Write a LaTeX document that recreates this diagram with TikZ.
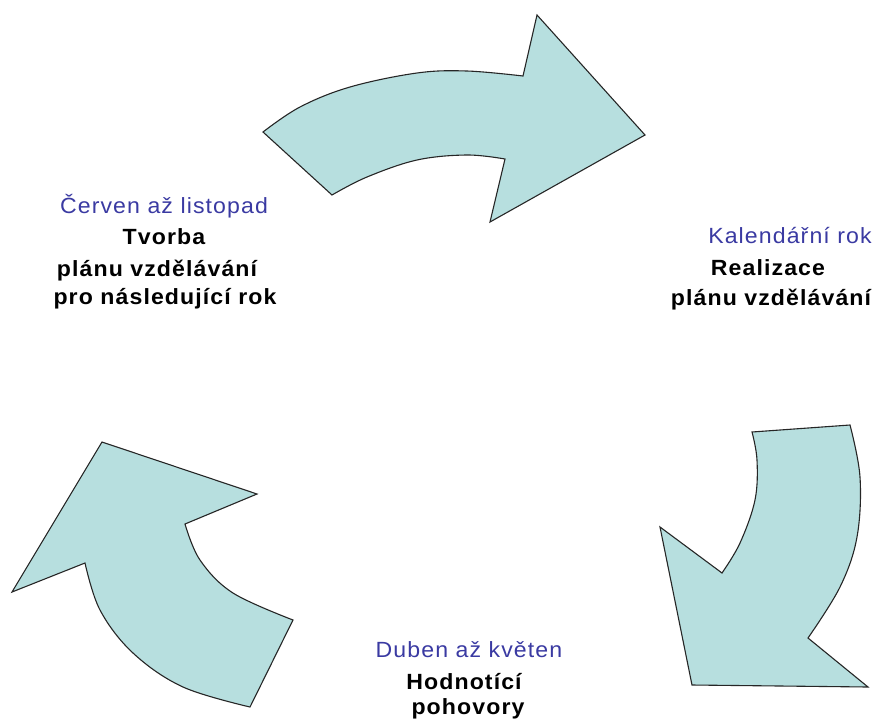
\documentclass[tikz,border=0pt]{standalone}
\usepackage{fontspec}
\setmainfont{Liberation Sans}
\newfontfamily\lblfont[FakeStretch=1.05,LetterSpace=5]{Liberation Sans}
\definecolor{arrowfill}{HTML}{B7DFDF}
\definecolor{monthblue}{HTML}{3A3AA2}
\tikzset{
  bigarrow/.style={fill=arrowfill,draw=black!85,line width=1.1pt,line join=miter},
  lbl/.style={font=\lblfont\fontsize{22}{26}\selectfont,inner sep=0pt,anchor=base},
  month/.style={lbl,text=monthblue},
  task/.style={lbl,font=\lblfont\fontsize{22}{26}\selectfont\bfseries},
}
\begin{document}
\begin{tikzpicture}[x=1pt,y=-1pt]
\useasboundingbox (0,0) rectangle (876,724);
% top arrow
\path[bigarrow] plot[smooth,tension=0.6] coordinates {(263,132) (300,107) (350,87) (417,73) (467,71) (523,76)}
  -- (537,15) -- (645,135) -- (490,222) -- (505,159)
  -- plot[smooth,tension=0.6] coordinates {(505,159) (467,155) (417,160) (367,177) (332,195)} -- cycle;
% right arrow
\path[bigarrow] (752,432) -- (850,425)
  -- plot[smooth,tension=0.6] coordinates {(850,425) (860,477) (857,537) (840,587) (808,638)}
  -- (868,687) -- (692,685) -- (660,527) -- (722,573)
  -- plot[smooth,tension=0.6] coordinates {(722,573) (740,543) (755,500) (757,460) (752,432)} -- cycle;
% left arrow
\path[bigarrow] (102,442) -- (257,494) -- (185,524)
  -- plot[smooth,tension=0.6] coordinates {(185,524) (200,560) (233,593) (293,620)}
  -- (250,707)
  -- plot[smooth,tension=0.6] coordinates {(250,707) (183,687) (133,653) (100,610) (85,563)}
  -- (12,592) -- cycle;
% texts
\node[month] (m1) at (164,213) {Červen až listopad};
\node[task] (t1a) at (164,244) {Tvorba};
\node[task] (t1b) at (157,276) {plánu vzdělávání};
\node[task] (t1c) at (165,304) {pro následující rok};
\node[month] (m2) at (790,243) {Kalendářní rok};
\node[task] (t2a) at (768,275) {Realizace};
\node[task] (t2b) at (771,305) {plánu vzdělávání};
\node[month] (m3) at (469,657) {Duben až květen};
\node[task] (t3a) at (464,689) {Hodnotící};
\node[task] (t3b) at (468,714) {pohovory};
\end{tikzpicture}
\end{document}
